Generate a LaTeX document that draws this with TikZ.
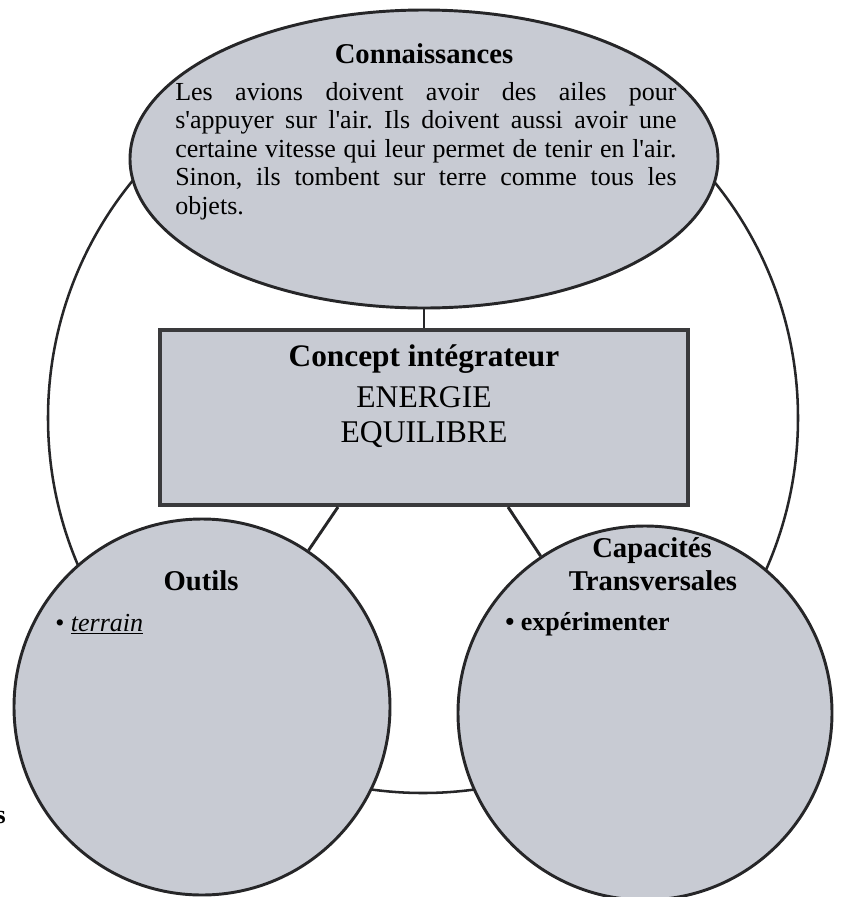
\documentclass[tikz,border=0pt]{standalone}
\usepackage{fontspec}
\setmainfont{Liberation Serif}
\usetikzlibrary{shapes.geometric,calc}
\definecolor{fondgris}{RGB}{200,203,211}
\definecolor{traitgris}{RGB}{38,38,40}
\definecolor{cadregris}{RGB}{58,58,60}
\frenchspacing

\begin{document}
\begin{tikzpicture}
  [x=0.75pt,y=-0.75pt,
   forme/.style={draw=traitgris,line width=2.2pt,fill=fondgris,inner sep=0pt},
   titre/.style={inner sep=0pt,anchor=base,font=\fontsize{21.5}{24}\selectfont\bfseries},
   corps/.style={inner sep=0pt,font=\fontsize{19.5}{21.4}\selectfont},
   lien/.style={draw=traitgris,line width=2.2pt}]
  \useasboundingbox (0,0) rectangle (841,897);

  % le grand cercle derriere tout
  \node[circle,draw=traitgris,line width=1.9pt,minimum size=562.5pt,inner sep=0pt] (cadre) at (423,418) {};

  \node[forme,ellipse,minimum width=441pt,minimum height=223.5pt] (conn) at (424,159) {};
  \node[forme,rectangle,draw=cadregris,line width=3pt,minimum width=396pt,minimum height=131.25pt] (concept) at (424,417.5) {};
  \node[forme,circle,minimum size=282pt] (outils) at (202,707) {};
  \node[forme,circle,minimum size=280.5pt] (capa) at (645,713) {};

  \draw[lien] (conn) -- (concept);
  \draw[lien] ($(concept.south)+(-86,0)$) -- (outils);
  \draw[lien] ($(concept.south)+(84,0)$) -- (capa);

  % textes
  \node[titre] (t-conn) at (424,63) {Connaissances};
  \node[corps,anchor=north west,text width=376pt,align=justify] (txt-conn) at (175,82)
    {\hyphenpenalty=10000 Les avions doivent avoir des ailes pour\linebreak
     s\textquotesingle appuyer sur l\textquotesingle air. Ils doivent aussi avoir une\linebreak
     certaine vitesse qui leur permet de tenir en l\textquotesingle air.\linebreak
     Sinon, ils tombent sur terre comme tous les\linebreak
     objets.};

  \node[titre,font=\fontsize{23.5}{26}\selectfont\bfseries] (t-concept) at (424,366) {Concept intégrateur};
  \node[corps,anchor=base,font=\fontsize{23.7}{26}\selectfont] (energie) at (424,407) {ENERGIE};
  \node[corps,anchor=base,font=\fontsize{23.7}{26}\selectfont] (equilibre) at (424,442) {EQUILIBRE};

  \node[titre] (t-outils) at (201,590) {Outils};
  \node[corps,anchor=base west] (terrain) at (55,631) {\textbullet\ \underline{\textit{terrain}}};

  \node[titre] (t-capa) at (652,557) {Capacités};
  \node[titre] (t-transv) at (653,590) {Transversales};
  \node[corps,anchor=base west,font=\fontsize{19.5}{21.4}\selectfont\bfseries] (experim) at (505,630) {\textbullet\ expérimenter};

  \node[corps,anchor=base east,font=\fontsize{19.5}{21.4}\selectfont\bfseries] (reste) at (6,823) {s};
\end{tikzpicture}
\end{document}
